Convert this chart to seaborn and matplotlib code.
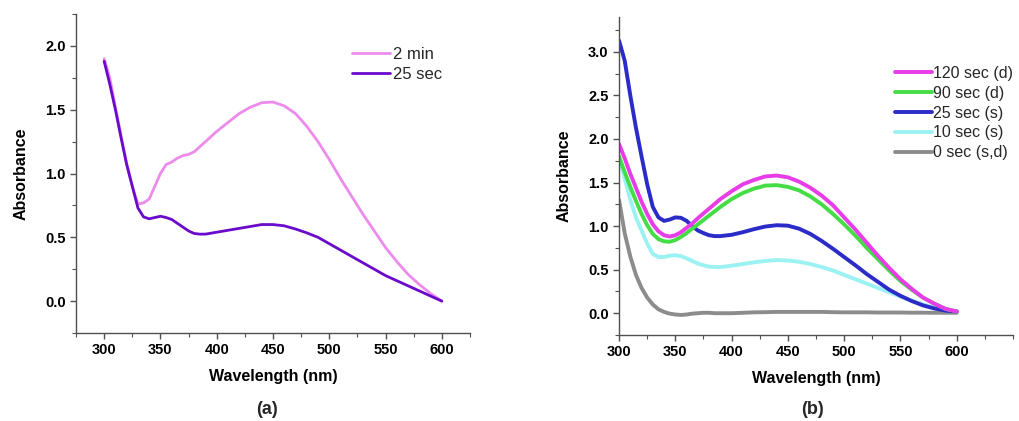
import seaborn as sns
import matplotlib.pyplot as plt
from matplotlib.ticker import MultipleLocator
import pandas as pd

# wavelength grid (nm)
wl = [300, 305, 310, 315, 320, 325, 330, 335, 340, 345, 350, 355, 360, 365, 370,
      375, 380, 385, 390, 400, 410, 420, 430, 440, 450, 460, 470, 480, 490, 500,
      510, 520, 530, 540, 550, 560, 570, 580, 590, 600]

# panel (a)
a_2min = [1.90, 1.75, 1.52, 1.30, 1.08, 0.90, 0.76, 0.77, 0.80, 0.90, 1.00, 1.07, 1.09, 1.12, 1.14,
          1.15, 1.17, 1.21, 1.25, 1.33, 1.40, 1.47, 1.52, 1.555, 1.56, 1.53, 1.47, 1.37, 1.25, 1.11,
          0.96, 0.82, 0.68, 0.55, 0.42, 0.31, 0.21, 0.13, 0.06, 0.0]
a_25sec = [1.88, 1.70, 1.50, 1.28, 1.07, 0.90, 0.73, 0.66, 0.645, 0.655, 0.665, 0.655, 0.64, 0.61, 0.58,
           0.55, 0.53, 0.525, 0.525, 0.54, 0.555, 0.57, 0.585, 0.60, 0.60, 0.59, 0.565, 0.535, 0.50, 0.45,
           0.40, 0.35, 0.30, 0.25, 0.20, 0.16, 0.12, 0.08, 0.04, 0.0]

# panel (b)
b_120 = [1.94, 1.78, 1.60, 1.44, 1.28, 1.14, 1.02, 0.94, 0.895, 0.88, 0.895, 0.93, 0.98, 1.03, 1.09,
         1.145, 1.20, 1.255, 1.31, 1.40, 1.48, 1.53, 1.57, 1.58, 1.56, 1.51, 1.44, 1.35, 1.24, 1.10,
         0.96, 0.81, 0.66, 0.52, 0.39, 0.28, 0.18, 0.11, 0.05, 0.02]
b_90 = [1.80, 1.62, 1.45, 1.29, 1.14, 1.01, 0.91, 0.85, 0.825, 0.82, 0.84, 0.875, 0.92, 0.97, 1.02,
        1.07, 1.12, 1.17, 1.22, 1.31, 1.38, 1.43, 1.465, 1.47, 1.45, 1.41, 1.34, 1.25, 1.14, 1.02,
        0.89, 0.75, 0.62, 0.49, 0.37, 0.27, 0.18, 0.11, 0.05, 0.02]
b_25 = [3.13, 2.90, 2.50, 2.13, 1.80, 1.48, 1.22, 1.10, 1.06, 1.075, 1.10, 1.095, 1.06, 1.00, 0.95,
        0.92, 0.895, 0.885, 0.885, 0.90, 0.93, 0.965, 0.995, 1.01, 1.005, 0.97, 0.91, 0.83, 0.74, 0.645,
        0.55, 0.45, 0.36, 0.27, 0.20, 0.14, 0.09, 0.055, 0.03, 0.02]
b_10 = [1.80, 1.55, 1.30, 1.10, 0.95, 0.80, 0.68, 0.645, 0.645, 0.66, 0.665, 0.655, 0.63, 0.60, 0.57,
        0.55, 0.535, 0.53, 0.53, 0.545, 0.565, 0.585, 0.60, 0.61, 0.605, 0.59, 0.565, 0.53, 0.49, 0.44,
        0.39, 0.34, 0.29, 0.24, 0.19, 0.145, 0.10, 0.065, 0.04, 0.02]
b_0 = [1.30, 0.92, 0.65, 0.44, 0.29, 0.18, 0.10, 0.045, 0.015, -0.005, -0.015, -0.02, -0.015, -0.005, 0.0,
       0.005, 0.005, 0.0, 0.0, 0.0, 0.005, 0.01, 0.012, 0.015, 0.015, 0.015, 0.015, 0.015, 0.012, 0.01,
       0.01, 0.01, 0.008, 0.008, 0.008, 0.006, 0.006, 0.005, 0.005, 0.005]

sns.set_style("ticks")
plt.rcParams['font.family'] = ['Liberation Sans', 'DejaVu Sans']

fig = plt.figure(figsize=(10.19, 4.21), dpi=100)
ax_a = fig.add_axes([0.0746, 0.209, 0.3866, 0.7577])
ax_b = fig.add_axes([0.6075, 0.2043, 0.3866, 0.7553])

df_a = pd.DataFrame({"wl": wl, "2 min": a_2min, "25 sec": a_25sec})
df_b = pd.DataFrame({"wl": wl, "120 sec (d)": b_120, "90 sec (d)": b_90,
                     "25 sec (s)": b_25, "10 sec (s)": b_10, "0 sec (s,d)": b_0})

# panel (a)
sns.lineplot(data=df_a, x="wl", y="2 min", ax=ax_a, color="#EC8BEC", linewidth=2.0,
             label="2 min", estimator=None)
sns.lineplot(data=df_a, x="wl", y="25 sec", ax=ax_a, color="#6A0ACB", linewidth=2.0,
             label="25 sec", estimator=None)
ax_a.set_xlim(275, 625)
ax_a.set_ylim(-0.25, 2.25)
ax_a.legend(loc="upper left", bbox_to_anchor=(0.70, 0.898), frameon=False, fontsize=12,
            handlelength=2.3, handletextpad=0.15, labelspacing=0.33, borderaxespad=0, borderpad=0)

# panel (b)
colors_b = {"120 sec (d)": "#E83CE8", "90 sec (d)": "#45DD45", "25 sec (s)": "#2B2BC8",
            "10 sec (s)": "#9CF2F2", "0 sec (s,d)": "#8C8C8C"}
for name in ["0 sec (s,d)", "10 sec (s)", "25 sec (s)", "90 sec (d)", "120 sec (d)"]:
    sns.lineplot(data=df_b, x="wl", y=name, ax=ax_b, color=colors_b[name], linewidth=2.8,
                 label=name, estimator=None)
ax_b.set_xlim(300, 650)
ax_b.set_ylim(-0.25, 3.4)
handles, labels = ax_b.get_legend_handles_labels()
order = [labels.index(n) for n in colors_b]
ax_b.legend([handles[i] for i in order], [labels[i] for i in order], loc="upper left",
            bbox_to_anchor=(0.70, 0.846), frameon=False, fontsize=11.5,
            handlelength=2.3, handletextpad=0.1, labelspacing=0.3, borderaxespad=0, borderpad=0)

for ax in (ax_a, ax_b):
    ax.set_xticks([300, 350, 400, 450, 500, 550, 600])
    ax.xaxis.set_minor_locator(MultipleLocator(25))
    ax.yaxis.set_major_locator(MultipleLocator(0.5))
    ax.yaxis.set_minor_locator(MultipleLocator(0.25))
    sns.despine(ax=ax)
    for s in ("left", "bottom"):
        ax.spines[s].set_color("#505050")
        ax.spines[s].set_linewidth(1.0)
    ax.tick_params(which="major", direction="out", length=4, width=1, color="#505050",
                   labelsize=10.5, labelcolor="black")
    ax.tick_params(which="minor", direction="out", length=3, width=0.8, color="#505050")
    ax.yaxis.set_major_formatter(plt.FuncFormatter(lambda v, p: f"{v:.1f}"))
    for lab in ax.get_xticklabels() + ax.get_yticklabels():
        lab.set_fontweight("bold")
    ax.set_xlabel("Wavelength (nm)", fontsize=11.5, fontweight="bold", labelpad=8, color="black")
    ax.set_ylabel("Absorbance", fontsize=11.5, fontweight="bold", labelpad=12, color="black")

fig.text(0.262, 0.028, "(a)", ha="center", va="center", fontsize=13, fontweight="bold")
fig.text(0.797, 0.028, "(b)", ha="center", va="center", fontsize=13, fontweight="bold")

fig.savefig("out.png", dpi=100)
